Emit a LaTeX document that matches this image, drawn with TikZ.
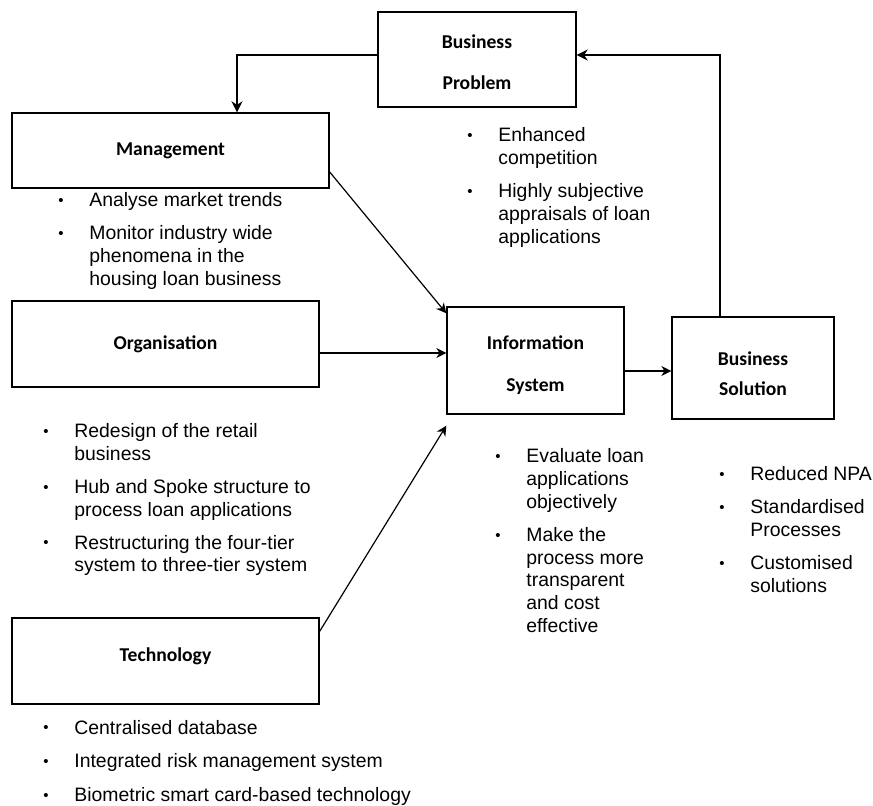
\documentclass[tikz,border=0pt]{standalone}
\usepackage{fontspec}
\setmainfont{Liberation Sans}
\newfontfamily\boxfont{Carlito}
\usetikzlibrary{arrows.meta}

% small bullet used in the lists
\newcommand{\bul}{\makebox[15.5pt][l]{\raisebox{0.6pt}{\fontsize{7.5}{7.5}\selectfont\textbullet}}}

\tikzset{
  box/.style={draw, line width=0.7pt, inner sep=0pt, align=center,
    font=\boxfont\bfseries\fontsize{9.8}{11}\selectfont},
  bullets/.style={anchor=base west, inner sep=0pt,
    font=\fontsize{9.7}{11.4}\selectfont},
  link/.style={-{Stealth[length=5pt,width=5pt]}, line width=0.6pt},
  feedback/.style={-{Stealth[length=5.5pt,width=5.5pt]}, line width=1pt}
}

\begin{document}
\begin{tikzpicture}[x=0.5pt, y=-0.5pt]
  \useasboundingbox (0,0) rectangle (873,806);

  % Boxes
  \node[box, minimum width=99pt, minimum height=47.5pt] (prob) at (477,59.5) {\rule{0pt}{10pt}Business\\[9.5pt]Problem};
  \node[box, minimum width=158.5pt, minimum height=37.5pt] (mgmt) at (170.5,150.5) {Management};
  \node[box, minimum width=153.5pt, minimum height=43pt] (org) at (165.5,344) {Organisation};
  \node[box, minimum width=88.5pt, minimum height=53.5pt] (info) at (535.5,360.5) {\rule{0pt}{12pt}Information\\[10pt]System};
  \node[box, minimum width=81pt, minimum height=51pt] (sol) at (753,368) {\rule{0pt}{13pt}Business\\[4pt]Solution};
  \node[box, minimum width=153.5pt, minimum height=43pt] (tech) at (165.5,661) {\raisebox{6pt}{Technology}};

  % Bullet lists
  \node[bullets] (mgmtlist) at (58,207) {\begin{tabular}[t]{@{}l@{}l@{}}
    \bul & Analyse market trends\\[5pt]
    \bul & Monitor industry wide\\
         & phenomena in the\\
         & housing loan business
  \end{tabular}};
  \node[bullets] (problist) at (467,142) {\begin{tabular}[t]{@{}l@{}l@{}}
    \bul & Enhanced\\
         & competition\\[5pt]
    \bul & Highly subjective\\
         & appraisals of loan\\
         & applications
  \end{tabular}};
  \node[bullets] (orglist) at (43,438) {\begin{tabular}[t]{@{}l@{}l@{}}
    \bul & Redesign of the retail\\
         & business\\[5pt]
    \bul & Hub and Spoke structure to\\
         & process loan applications\\[5pt]
    \bul & Restructuring the four-tier\\
         & system to three-tier system
  \end{tabular}};
  \node[bullets] (infolist) at (495,463) {\begin{tabular}[t]{@{}l@{}l@{}}
    \bul & Evaluate loan\\
         & applications\\
         & objectively\\[5pt]
    \bul & Make the\\
         & process more\\
         & transparent\\
         & and cost\\
         & effective
  \end{tabular}};
  \node[bullets] (sollist) at (719,481) {\begin{tabular}[t]{@{}l@{}l@{}}
    \bul & Reduced NPA\\[5pt]
    \bul & Standardised\\
         & Processes\\[5pt]
    \bul & Customised\\
         & solutions
  \end{tabular}};
  \node[bullets] (techlist) at (43,734) {\begin{tabular}[t]{@{}l@{}l@{}}
    \bul & Centralised database\\[5.5pt]
    \bul & Integrated risk management system\\[5.5pt]
    \bul & Biometric smart card-based technology
  \end{tabular}};

  % Arrows into the information system
  \draw[link] ([yshift=-10.75pt]mgmt.east) -- ([yshift=-3.5pt]info.north west);
  \draw[link] ([yshift=-4.5pt]org.east) -- ([yshift=-4.5pt]org.east -| info.west);
  \draw[link] ([yshift=-7pt]tech.north east) -- ([yshift=-5.5pt]info.south west);
  \draw[link] ([yshift=-5.25pt]info.east) -- ([yshift=-5.25pt]info.east -| sol.west);

  % Feedback loop
  \draw[feedback] ([xshift=-16.5pt]sol.north) |- ([yshift=2.25pt]prob.east);
  \draw[feedback] ([yshift=2.25pt]prob.west) -| ([xshift=33.25pt]mgmt.north);
\end{tikzpicture}
\end{document}
